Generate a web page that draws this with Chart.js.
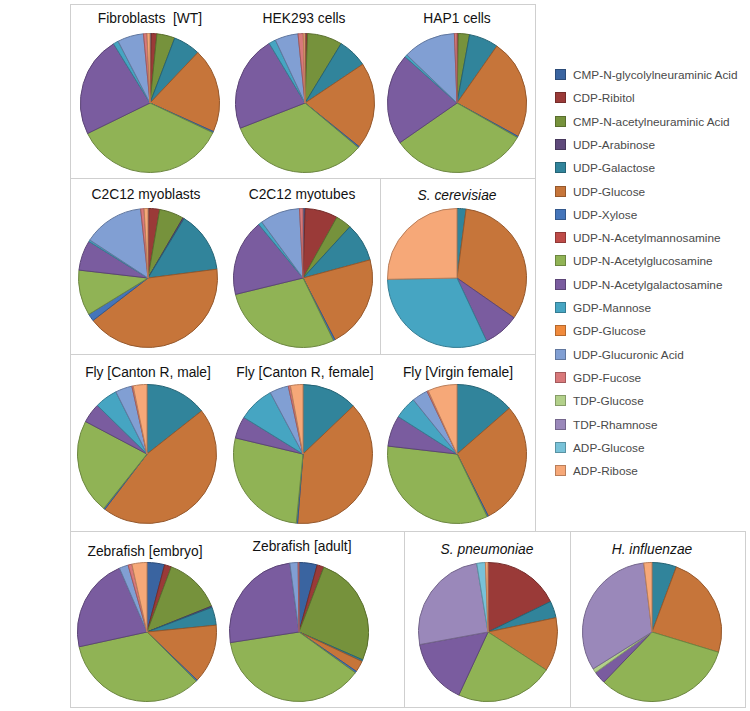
<!DOCTYPE html>
<html>
<head>
<meta charset="utf-8">
<script src="https://cdn.jsdelivr.net/npm/chart.js@4.4.1/dist/chart.umd.min.js"></script>
<style>
  body { margin: 0; background: #fff; font-family: "Liberation Sans", Arial, sans-serif; }
  #page { position: relative; width: 750px; height: 711px; overflow: hidden; }
  .box { position: absolute; border: 1px solid #cfcfcf; box-sizing: border-box; }
  .title { position: absolute; font-size: 13.8px; color: #111; white-space: pre; transform: translate(-50%, -50%); }
  .title.it { font-style: italic; }
  canvas.pie { position: absolute; }
  .leg { position: absolute; left: 555px; font-size: 11.8px; color: #4a4a4a; white-space: nowrap; }
  .leg span.sw { display: inline-block; width: 9px; height: 9px; border: 1px solid; margin-right: 7px; vertical-align: -1px; }
</style>
</head>
<body>
<div id="page"></div>
<script>
// --- DATA ---
const categories = [
  "CMP-N-glycolylneuraminic Acid", "CDP-Ribitol", "CMP-N-acetylneuraminic Acid",
  "UDP-Arabinose", "UDP-Galactose", "UDP-Glucose", "UDP-Xylose",
  "UDP-N-Acetylmannosamine", "UDP-N-Acetylglucosamine", "UDP-N-Acetylgalactosamine",
  "GDP-Mannose", "GDP-Glucose", "UDP-Glucuronic Acid", "GDP-Fucose",
  "TDP-Glucose", "TDP-Rhamnose", "ADP-Glucose", "ADP-Ribose"
];

// percent of each nucleotide sugar, in legend order
const fibroblastsWT    = [0.3, 1.3, 4.2, 0, 6.3, 19.7, 0.3, 0, 35.8, 23.5, 1.2, 0, 6.1, 0.8, 0, 0, 0, 0.7];
const hek293           = [0.2, 0.4, 8.1, 0, 6.9, 20.2, 0.3, 0, 33.0, 22.3, 1.6, 0, 5.4, 1.2, 0, 0, 0, 0.4];
const hap1             = [0, 0.3, 2.6, 0, 6.8, 23.2, 0.3, 0, 32.0, 21.2, 0.6, 0, 12.2, 0.6, 0, 0, 0, 0];
const c2c12Myoblasts   = [0.2, 2.5, 5.7, 0.3, 14.3, 41.6, 1.7, 0, 10.6, 7.0, 0.4, 0, 14.1, 0.8, 0, 0, 0, 0.9];
const c2c12Myotubes    = [0.5, 7.6, 3.7, 0, 9.0, 21.6, 0.4, 0, 28.4, 17.8, 0.9, 0, 9.3, 0.8, 0, 0, 0, 0];
const sCerevisiae      = [0, 0, 0, 0, 2.1, 32.6, 0, 0, 0, 8.3, 31.7, 0, 0, 0, 0, 0, 0, 25.3];
const flyCantonMale    = [0, 0, 0, 0, 14.4, 46.1, 0.3, 0, 22.1, 4.6, 5.3, 0, 3.9, 0.3, 0, 0, 0, 3.2];
const flyCantonFemale  = [0, 0, 0, 0, 12.9, 38.4, 0.3, 0, 27.2, 5.1, 8.4, 0, 4.4, 0.5, 0, 0, 0, 2.9];
const flyVirginFemale  = [0, 0, 0, 0, 13.6, 29.0, 0.3, 0, 34.0, 7.2, 5.2, 0, 3.7, 0.3, 0, 0, 0, 6.8];
const zebrafishEmbryo  = [4.1, 1.6, 13.3, 0.3, 4.2, 13.8, 0.3, 0, 34.2, 22.0, 0, 0, 2.1, 0.9, 0, 0, 0, 3.5];
const zebrafishAdult   = [4.2, 1.6, 25.6, 0, 0.4, 2.6, 0.4, 0, 37.4, 25.2, 0, 0, 1.9, 0.2, 0, 0, 0, 0];
const sPneumoniae      = [0, 17.8, 0, 0, 3.9, 12.5, 0, 0, 22.7, 15.2, 0, 0, 0, 0, 0, 25.3, 2.0, 0.6];
const hInfluenzae      = [0, 0, 0, 0, 5.7, 24.0, 0, 0, 32.5, 2.9, 0, 0, 0, 0, 1.0, 32.0, 0, 1.9];

const sampleTitles = [
  "Fibroblasts  [WT]", "HEK293 cells", "HAP1 cells",
  "C2C12 myoblasts", "C2C12 myotubes", "S. cerevisiae",
  "Fly [Canton R, male]", "Fly [Canton R, female]", "Fly [Virgin female]",
  "Zebrafish [embryo]", "Zebrafish [adult]", "S. pneumoniae", "H. influenzae"
];
const sampleValues = [
  fibroblastsWT, hek293, hap1,
  c2c12Myoblasts, c2c12Myotubes, sCerevisiae,
  flyCantonMale, flyCantonFemale, flyVirginFemale,
  zebrafishEmbryo, zebrafishAdult, sPneumoniae, hInfluenzae
];

// --- STYLE / LAYOUT ---
const sliceColors = [
  "#3A64A0", "#9A3A38", "#76923C", "#5F4A7B", "#31849B", "#C6753A",
  "#4475BA", "#BE4B48", "#90B355", "#7A5C9F", "#46A5C2", "#F08A3C",
  "#819FD3", "#D8787A", "#B2D08A", "#9A88BA", "#78C2D8", "#F6A878"
];

function darker(hex, f) {
  const n = parseInt(hex.slice(1), 16);
  const r = Math.round(((n >> 16) & 255) * f);
  const g = Math.round(((n >> 8) & 255) * f);
  const b = Math.round((n & 255) * f);
  return `rgb(${r},${g},${b})`;
}
const sliceBorders = sliceColors.map(c => darker(c, 0.75));

// pie centre x, centre y, title x, title y, italic
const layout = [
  [150, 103, 150, 18, false], [305, 103, 304, 18, false], [457, 103, 457, 18, false],
  [148, 278, 146, 194, false], [303, 278, 302, 194, false], [457, 278, 457, 195, true],
  [147, 454, 148, 372, false], [303, 454, 305, 372, false], [457, 454, 458, 372, false],
  [147, 632, 145, 551, false], [299, 632, 302, 546, false], [488, 632, 487, 549, true], [652, 632, 652, 549, true]
];

const boxes = [
  [70, 4, 536, 179], [70, 178, 381, 355], [380, 178, 536, 355],
  [70, 354, 536, 532], [70, 531, 405, 708], [404, 531, 571, 708], [570, 531, 746, 708]
];

const page = document.getElementById("page");

boxes.forEach(b => {
  const d = document.createElement("div");
  d.className = "box";
  d.style.left = b[0] + "px";
  d.style.top = b[1] + "px";
  d.style.width = (b[2] - b[0]) + "px";
  d.style.height = (b[3] - b[1]) + "px";
  page.appendChild(d);
});

const PIE = 140;

sampleValues.forEach((vals, i) => {
  const [cx, cy, tx, ty, it] = layout[i];

  const t = document.createElement("div");
  t.className = "title" + (it ? " it" : "");
  t.textContent = sampleTitles[i];
  t.style.left = tx + "px";
  t.style.top = ty + "px";
  page.appendChild(t);

  const cv = document.createElement("canvas");
  cv.className = "pie";
  cv.width = PIE;
  cv.height = PIE;
  cv.style.width = PIE + "px";
  cv.style.height = PIE + "px";
  cv.style.left = (cx - PIE / 2) + "px";
  cv.style.top = (cy - PIE / 2) + "px";
  page.appendChild(cv);

  new Chart(cv, {
    type: "pie",
    data: {
      labels: categories,
      datasets: [{
        data: vals,
        backgroundColor: sliceColors,
        borderColor: sliceBorders,
        borderWidth: 1
      }]
    },
    options: {
      responsive: false,
      animation: false,
      layout: { padding: 0 },
      plugins: {
        legend: { display: false },
        tooltip: { enabled: false }
      }
    }
  });
});

// legend
categories.forEach((name, i) => {
  const d = document.createElement("div");
  d.className = "leg";
  d.style.top = (68 + i * 23.3) + "px";
  d.innerHTML = `<span class="sw" style="background:${sliceColors[i]};border-color:${sliceBorders[i]}"></span>${name}`;
  page.appendChild(d);
});
</script>
</body>
</html>
